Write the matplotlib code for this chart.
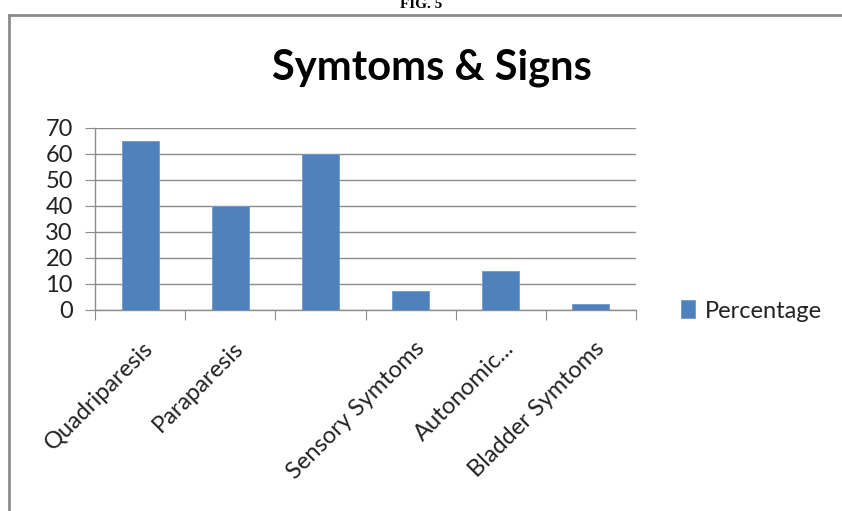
import matplotlib
matplotlib.use("Agg")
import matplotlib.pyplot as plt
from matplotlib.lines import Line2D

categories = ["Quadriparesis", "Paraparesis", "", "Sensory Symtoms", "Autonomic...", "Bladder Symtoms"]
percentage = [65, 40, 60, 7.5, 15, 2.5]
yticks = [0, 10, 20, 30, 40, 50, 60, 70]

FONT = "Lato"
W, H = 842, 511
fig = plt.figure(figsize=(W / 100, H / 100), dpi=100)
fig.patch.set_facecolor("white")

# outer frame (top and left edges visible, grey)
fig.add_artist(Line2D([9 / W, 9 / W], [0, 1 - 15 / H], transform=fig.transFigure,
                      color="#8c8c8c", lw=2.0))
fig.add_artist(Line2D([9 / W, 1], [1 - 15 / H, 1 - 15 / H], transform=fig.transFigure,
                      color="#8c8c8c", lw=2.0))

fig.text(421 / W, 1 - 5 / H, "FIG. 5", ha="center", va="center",
         family="Liberation Serif", weight="bold", fontsize=11)

fig.text(432 / W, 1 - 68 / H, "Symtoms & Signs", ha="center", va="center",
         family=FONT, weight="bold", fontsize=30)

ax = fig.add_axes([95 / W, 1 - 310 / H, (636 - 95) / W, (310 - 128) / H])
x = list(range(len(categories)))
bars = ax.bar(x, percentage, width=0.41, color="#4f81bd", edgecolor="#6f9bd0",
              linewidth=0.6, zorder=3, label="Percentage")
ax.set_xlim(-0.5, len(categories) - 0.5)
ax.set_ylim(0, 70)
ax.set_yticks(yticks)
ax.set_yticklabels([str(v) for v in yticks], family=FONT, fontsize=17, color="#222222")
ax.yaxis.grid(True, color="#8c8c8c", lw=1.0, zorder=0)
ax.set_axisbelow(True)
for s in ["top", "right"]:
    ax.spines[s].set_visible(False)
for s in ["left", "bottom"]:
    ax.spines[s].set_color("#8c8c8c")
    ax.spines[s].set_linewidth(1.0)
ax.tick_params(axis="y", length=7, color="#8c8c8c", direction="out", pad=9)

# category ticks at the boundaries between bars
ax.set_xticks([i - 0.5 for i in range(len(categories) + 1)])
ax.set_xticklabels([])
ax.tick_params(axis="x", length=7, color="#8c8c8c", direction="out")
for i, lab in enumerate(categories):
    ax.annotate(lab, xy=(i, 0), xycoords="data", xytext=(2, -20), textcoords="offset points",
                rotation=45, ha="right", va="top", rotation_mode="anchor",
                family=FONT, fontsize=17, color="#222222")

leg = fig.legend(handles=[bars], labels=["Percentage"], loc="center left",
                 bbox_to_anchor=(660 / W, 1 - 311 / H), frameon=False,
                 prop={"family": FONT, "size": 17}, handlelength=0.6,
                 handleheight=0.8, handletextpad=0.4)
for t in leg.get_texts():
    t.set_color("#222222")

fig.savefig("out.png", dpi=100)
